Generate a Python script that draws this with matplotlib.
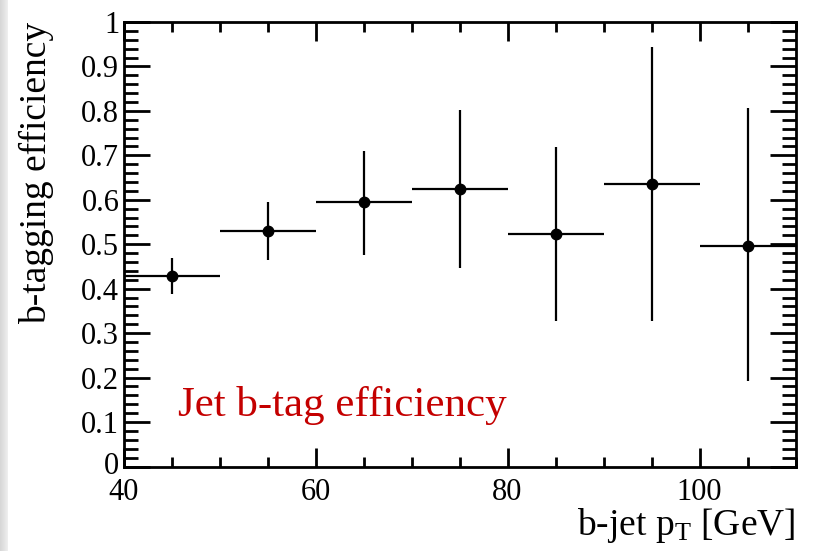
import numpy as np
import matplotlib
matplotlib.use("Agg")
import matplotlib.pyplot as plt
import matplotlib.transforms as mtransforms
from matplotlib.ticker import MultipleLocator, FixedLocator

# Data
pt_centers = [45, 55, 65, 75, 85, 95, 105]
pt_halfwidth = [5, 5, 5, 5, 5, 5, 5]
efficiency = [0.429, 0.530, 0.595, 0.624, 0.522, 0.635, 0.497]
err_up = [0.468, 0.594, 0.710, 0.801, 0.719, 0.943, 0.806]
err_down = [0.387, 0.464, 0.475, 0.446, 0.327, 0.327, 0.192]

x_ticks = [40, 60, 80, 100]
x_ticklabels = ["40", "60", "80", "100"]
y_ticks = [0, 0.1, 0.2, 0.3, 0.4, 0.5, 0.6, 0.7, 0.8, 0.9, 1]
y_ticklabels = ["0", "0.1", "0.2", "0.3", "0.4", "0.5", "0.6", "0.7", "0.8", "0.9", "1"]

plt.rcParams['font.family'] = ['Liberation Serif', 'DejaVu Serif']
plt.rcParams['mathtext.fontset'] = 'custom'
plt.rcParams['mathtext.rm'] = 'Liberation Serif'
plt.rcParams['mathtext.it'] = 'Liberation Serif:italic'

W, H = 819, 551
fig = plt.figure(figsize=(W / 100, H / 100), dpi=100)

# left gray shadow strip
shade = fig.add_axes([0, 0, 8 / W, 1])
grad = np.linspace(0.84, 0.93, 8).reshape(1, -1)
shade.imshow(grad, cmap='gray', vmin=0, vmax=1, aspect='auto', extent=[0, 1, 0, 1])
shade.axis('off')

left, right, top, bottom = 123.5, 795.5, 22, 466.5
ax = fig.add_axes([left / W, 1 - bottom / H, (right - left) / W, (bottom - top) / H])

yerr_lo = [e - d for e, d in zip(efficiency, err_down)]
yerr_hi = [u - e for e, u in zip(efficiency, err_up)]
ax.errorbar(pt_centers, efficiency, xerr=pt_halfwidth, yerr=[yerr_lo, yerr_hi],
            fmt='o', color='black', ms=7.5, elinewidth=1.6, capsize=0, zorder=3)

ax.set_xlim(40, 110)
ax.set_ylim(0, 1)
ax.xaxis.set_major_locator(FixedLocator(x_ticks))
ax.set_xticklabels(x_ticklabels)
ax.xaxis.set_minor_locator(MultipleLocator(5))
ax.yaxis.set_major_locator(FixedLocator(y_ticks))
ax.set_yticklabels(y_ticklabels)
ax.yaxis.set_minor_locator(MultipleLocator(0.02))

ax.tick_params(which='both', direction='in', top=True, right=True, width=2.0, labelsize=22)
ax.tick_params(axis='x', which='major', length=14, pad=8)
ax.tick_params(axis='x', which='minor', length=7)
ax.tick_params(axis='y', which='major', length=19, pad=3)
ax.tick_params(axis='y', which='minor', length=10)
for s in ax.spines.values():
    s.set_linewidth(2.0)

# nudge the "0" y label up slightly, like ROOT
ylabs = ax.get_yticklabels()
ylabs[0].set_transform(ylabs[0].get_transform() +
                       mtransforms.ScaledTranslation(0, 4 / 100, fig.dpi_scale_trans))

ax.set_ylabel('b-tagging efficiency', fontsize=27)
ax.yaxis.set_label_coords(-69 / (right - left), 1.0)
ax.yaxis.label.set_ha('right')

fig.text(right / W, 1 - 535 / H, r'b-jet p$_{\mathrm{T}}$ [GeV]', fontsize=27,
         ha='right', va='baseline')

ax.text(45.7, 0.114, 'Jet b-tag efficiency', color='#c40000', fontsize=31,
        ha='left', va='baseline')

fig.savefig('out.png', dpi=100)
